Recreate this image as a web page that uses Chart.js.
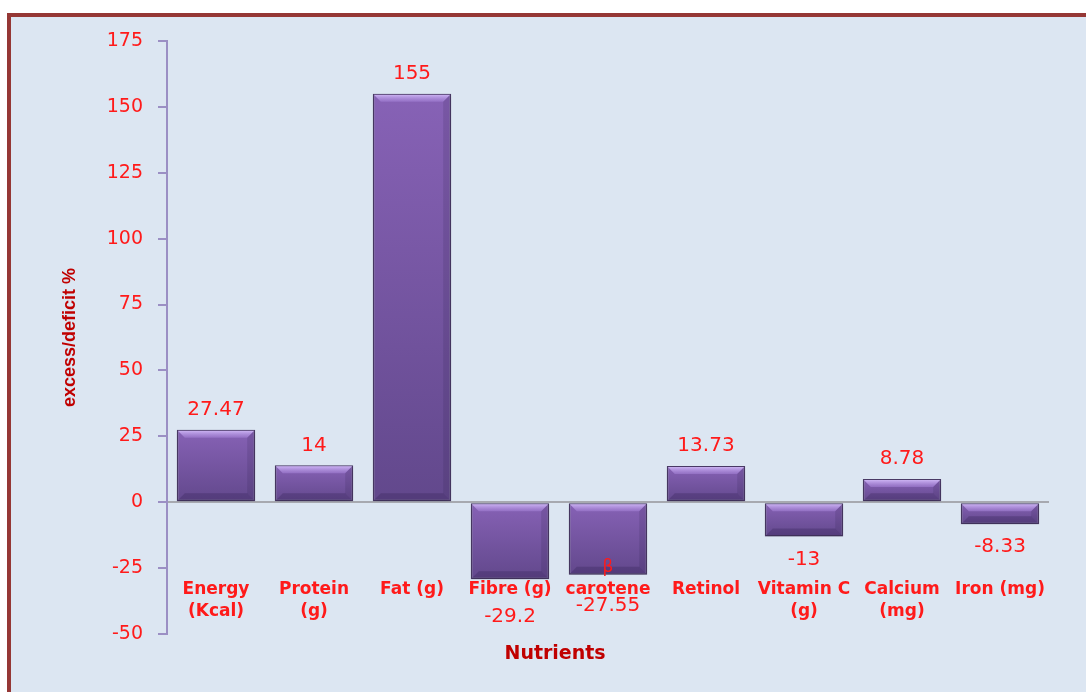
<!DOCTYPE html>
<html>
<head>
<meta charset="utf-8">
<script src="https://cdn.jsdelivr.net/npm/chart.js@4"></script>
<style>
  body { margin: 0; background: #ffffff; overflow: hidden; }
  #frame {
    position: absolute; left: 7px; top: 13px; width: 1100px; height: 700px;
    background: #dce6f2;
    border-left: 4px solid #953735;
    border-top: 4px solid #953735;
  }
  #chart { position: absolute; left: 0; top: 0; }
</style>
</head>
<body>
<div id="frame"></div>
<canvas id="chart" width="1086" height="692"></canvas>
<script>
// chart data
const categories = [
  ['Energy', '(Kcal)'],
  ['Protein', '(g)'],
  ['Fat (g)'],
  ['Fibre (g)'],
  ['β', 'carotene'],
  ['Retinol'],
  ['Vitamin C', '(g)'],
  ['Calcium', '(mg)'],
  ['Iron (mg)']
];
const values = [27.47, 14, 155, -29.2, -27.55, 13.73, -13, 8.78, -8.33];
const yMin = -50;
const yMax = 175;
const yStep = 25;

const RED = '#ff1a1a';
const DARKRED = '#c00000';

// bar fill: vertical gradient per bar
function barFill(c) {
    const chart = c.chart;
    const ys = chart.scales.y;
    if (!ys || c.dataIndex === undefined) return '#7556a3';
    const v = values[c.dataIndex];
    const p1 = ys.getPixelForValue(v);
    const p0 = ys.getPixelForValue(0);
    if (!isFinite(p1) || !isFinite(p0)) return '#7556a3';
    const top = Math.min(p1, p0), bottom = Math.max(p1, p0);
    if (bottom - top < 1) return '#7556a3';
    const g = chart.ctx.createLinearGradient(0, top, 0, bottom);
    g.addColorStop(0, '#8762b6');
    g.addColorStop(1, '#62488c');
    return g;
}

const decor = {
    id: 'decor',
    beforeDatasetsDraw(chart) {
        const ctx = chart.ctx;
        ctx.save();
        ctx.shadowColor = 'rgba(40,30,60,0.35)';
        ctx.shadowBlur = 5;
        ctx.shadowOffsetY = 2;
    },
    afterDatasetsDraw(chart, args, opts) {
        const ctx = chart.ctx;
        ctx.restore();
        const meta = chart.getDatasetMeta(0);
        const ys = chart.scales.y;
        const xs = chart.scales.x;

        // bevel on each bar
        meta.data.forEach(function(bar) {
            const l = bar.x - bar.width / 2 + 1, r = bar.x + bar.width / 2 - 1;
            const t = Math.min(bar.y, bar.base) + 1, b = Math.max(bar.y, bar.base) - 1;
            const d = Math.min(7, (b - t) / 2);
            ctx.save();
            const g = ctx.createLinearGradient(0, t, 0, t + d);
            g.addColorStop(0, 'rgba(205,180,245,0.95)');
            g.addColorStop(1, 'rgba(160,125,210,0.6)');
            ctx.fillStyle = g;
            ctx.beginPath();
            ctx.moveTo(l, t); ctx.lineTo(r, t); ctx.lineTo(r - d, t + d); ctx.lineTo(l + d, t + d);
            ctx.closePath(); ctx.fill();
            ctx.fillStyle = 'rgba(40,25,70,0.25)';
            ctx.beginPath();
            ctx.moveTo(l, b); ctx.lineTo(r, b); ctx.lineTo(r - d, b - d); ctx.lineTo(l + d, b - d);
            ctx.closePath(); ctx.fill();
            ctx.fillStyle = 'rgba(40,25,70,0.15)';
            ctx.beginPath();
            ctx.moveTo(r, t); ctx.lineTo(r, b); ctx.lineTo(r - d, b - d); ctx.lineTo(r - d, t + d);
            ctx.closePath(); ctx.fill();
            ctx.restore();
        });

        // value labels
        ctx.save();
        ctx.font = '20px "DejaVu Sans"';
        ctx.fillStyle = RED;
        ctx.textAlign = 'center';
        ctx.textBaseline = 'middle';
        meta.data.forEach(function(bar, i) {
            const v = values[i];
            const y = v >= 0 ? bar.y - 20 : bar.y + 23 + (opts.nudge[i] || 0);
            ctx.fillText(String(v), bar.x, y);
        });

        // category labels inside the plot, below -25
        const base = ys.getPixelForValue(-25) + 21;
        categories.forEach(function(lines, i) {
            const x = xs.getPixelForValue(i);
            const shift = opts.lineShift[i] || 0;
            lines.forEach(function(txt, k) {
                ctx.font = txt === 'β' ? '17px "DejaVu Sans"' : 'bold 17px "DejaVu Sans"';
                ctx.fillText(txt, x, base + (k + shift) * 22);
            });
        });

        // x axis title
        const area = chart.chartArea;
        ctx.font = 'bold 19px "DejaVu Sans"';
        ctx.fillStyle = DARKRED;
        ctx.fillText('Nutrients', area.left + (area.right - area.left) * 0.44, area.bottom + 20);
        ctx.restore();
    }
};

new Chart(document.getElementById('chart'), {
    type: 'bar',
    data: {
        labels: categories.map(c => c.join(' ')),
        datasets: [{
            data: values,
            backgroundColor: barFill,
            borderColor: '#4a3a66',
            borderWidth: 1.5,
            borderSkipped: false,
            barPercentage: 0.8,
            categoryPercentage: 1.0
        }]
    },
    options: {
        responsive: false,
        animation: false,
        devicePixelRatio: 1,
        layout: { padding: { top: 41, right: 37, left: 0, bottom: 0 } },
        plugins: {
            legend: { display: false },
            tooltip: { enabled: false },
            decor: { nudge: { 3: 15, 4: 8 }, lineShift: { 4: -1 } }
        },
        scales: {
            x: {
                ticks: { display: false },
                grid: { display: false },
                border: { display: false },
                afterFit(scale) { scale.height = 58; }
            },
            y: {
                min: yMin,
                max: yMax,
                ticks: {
                    stepSize: yStep,
                    color: RED,
                    padding: 15,
                    font: { family: 'DejaVu Sans', size: 19 }
                },
                grid: {
                    color: c => (c.tick && c.tick.value === 0) ? '#a7a9b0' : 'rgba(0,0,0,0)',
                    lineWidth: 2,
                    tickColor: '#9b8fc4',
                    tickLength: 9
                },
                border: { color: '#9b8fc4', width: 2 },
                title: {
                    display: true,
                    text: 'excess/deficit %',
                    color: DARKRED,
                    font: { family: '"Liberation Sans"', size: 18, weight: 'bold' },
                    padding: { top: 59, bottom: 0 }
                },
                afterFit(scale) { scale.width = 167; }
            }
        }
    },
    plugins: [decor]
});
</script>
</body>
</html>
